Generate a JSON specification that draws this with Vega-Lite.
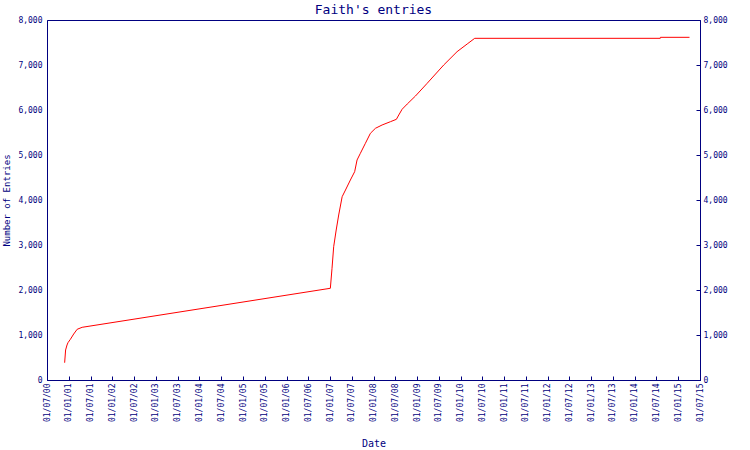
{
  "$schema": "https://vega.github.io/schema/vega-lite/v6.json",
  "width": 653,
  "height": 360,
  "autosize": {"type": "none"},
  "padding": {"left": 47, "top": 20, "right": 50, "bottom": 70},
  "background": "white",
  "title": {"text": "Faith's entries", "font": "DejaVu Sans Mono", "fontSize": 13, "fontWeight": "normal", "color": "#000080", "offset": -1},
  "config": {
    "view": {"stroke": "#000080", "strokeWidth": 1},
    "axis": {"domainColor": "#000080", "tickColor": "#000080", "labelColor": "#000080", "titleColor": "#000080", "labelFont": "DejaVu Sans Mono", "titleFont": "DejaVu Sans Mono", "labelFontSize": 8, "titleFontSize": 10, "titleFontWeight": "normal", "grid": false}
  },
  "data": {"values": [
    {"date": "2000-11-26", "entries": 384},
    {"date": "2000-12-04", "entries": 667},
    {"date": "2000-12-16", "entries": 778},
    {"date": "2000-12-24", "entries": 829},
    {"date": "2001-01-13", "entries": 904},
    {"date": "2001-02-10", "entries": 1022},
    {"date": "2001-03-11", "entries": 1127},
    {"date": "2001-04-22", "entries": 1171},
    {"date": "2007-01-03", "entries": 2038},
    {"date": "2007-01-17", "entries": 2482},
    {"date": "2007-01-31", "entries": 2962},
    {"date": "2007-02-21", "entries": 3333},
    {"date": "2007-03-14", "entries": 3667},
    {"date": "2007-04-12", "entries": 4073},
    {"date": "2007-05-10", "entries": 4222},
    {"date": "2007-06-20", "entries": 4444},
    {"date": "2007-07-26", "entries": 4629},
    {"date": "2007-08-15", "entries": 4889},
    {"date": "2007-09-12", "entries": 5038},
    {"date": "2007-10-24", "entries": 5260},
    {"date": "2007-12-05", "entries": 5482},
    {"date": "2008-01-16", "entries": 5593},
    {"date": "2008-03-12", "entries": 5667},
    {"date": "2008-05-21", "entries": 5740},
    {"date": "2008-07-10", "entries": 5793},
    {"date": "2008-07-30", "entries": 5889},
    {"date": "2008-08-27", "entries": 6016},
    {"date": "2008-10-09", "entries": 6133},
    {"date": "2008-12-17", "entries": 6311},
    {"date": "2009-03-25", "entries": 6593},
    {"date": "2009-08-11", "entries": 7000},
    {"date": "2009-12-01", "entries": 7296},
    {"date": "2010-02-24", "entries": 7467},
    {"date": "2010-04-28", "entries": 7593},
    {"date": "2014-08-02", "entries": 7593},
    {"date": "2014-08-03", "entries": 7615},
    {"date": "2015-04-04", "entries": 7615}
  ]},
  "encoding": {
    "x": {"field": "date", "type": "temporal",
      "scale": {"type": "utc", "domain": ["2000-07-01", "2015-07-01"]},
      "axis": {"title": "Date", "labelExpr": "utcFormat(datum.value, '%d/%m/%y')", "tickCount": {"interval": "month", "step": 6}, "labelAngle": 270, "labelAlign": "right", "labelBaseline": "middle", "tickSize": -4, "labelPadding": 7, "titlePadding": 17, "labelOverlap": false, "labelFlush": false}}
  },
  "layer": [
    {
      "mark": {"type": "line", "color": "#ff0000", "strokeWidth": 1, "interpolate": "linear"},
      "encoding": {
        "y": {"field": "entries", "type": "quantitative", "scale": {"domain": [0, 8000]},
          "axis": {"title": "Number of Entries", "titleFontSize": 9, "orient": "left", "format": ",d", "values": [0, 1000, 2000, 3000, 4000, 5000, 6000, 7000, 8000], "ticks": false, "labelPadding": 5, "titlePadding": 6}}
      }
    },
    {
      "mark": {"type": "line", "color": "#ff0000", "strokeOpacity": 0},
      "encoding": {
        "y": {"field": "entries", "type": "quantitative", "scale": {"domain": [0, 8000]},
          "axis": {"title": null, "orient": "right", "format": ",d", "values": [0, 1000, 2000, 3000, 4000, 5000, 6000, 7000, 8000], "tickSize": -4, "labelPadding": 7}}
      }
    }
  ],
  "resolve": {"axis": {"y": "independent"}}
}
